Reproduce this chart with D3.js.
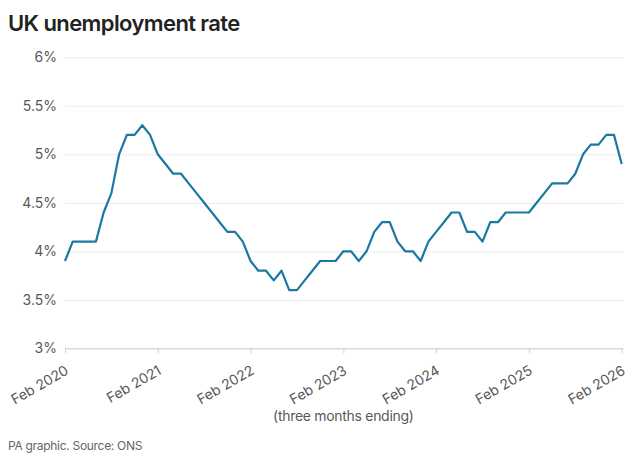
<!DOCTYPE html>
<html>
<head>
<meta charset="utf-8">
<script src="https://cdn.jsdelivr.net/npm/d3@7"></script>
<style>
  body { margin: 0; background: #fff; }
  svg text { font-family: Inter, "Noto Sans", sans-serif; }
</style>
</head>
<body>
<div id="root"></div>
<script>
// unemployment rate, %, three months ending Feb 2020 .. Feb 2026 (monthly)
var rates = [
  3.9, 4.1, 4.1, 4.1, 4.1, 4.4, 4.6, 5.0, 5.2, 5.2, 5.3, 5.2,
  5.0, 4.9, 4.8, 4.8, 4.7, 4.6, 4.5, 4.4, 4.3, 4.2, 4.2, 4.1,
  3.9, 3.8, 3.8, 3.7, 3.8, 3.6, 3.6, 3.7, 3.8, 3.9, 3.9, 3.9,
  4.0, 4.0, 3.9, 4.0, 4.2, 4.3, 4.3, 4.1, 4.0, 4.0, 3.9, 4.1,
  4.2, 4.3, 4.4, 4.4, 4.2, 4.2, 4.1, 4.3, 4.3, 4.4, 4.4, 4.4,
  4.4, 4.5, 4.6, 4.7, 4.7, 4.7, 4.8, 5.0, 5.1, 5.1, 5.2, 5.2,
  4.9
];
var yTicks = [3, 3.5, 4, 4.5, 5, 5.5, 6];
var xTicks = [0, 12, 24, 36, 48, 60, 72];
var xTickLabels = ["Feb 2020", "Feb 2021", "Feb 2022", "Feb 2023", "Feb 2024", "Feb 2025", "Feb 2026"];

var title = "UK unemployment rate",
    xTitle = "(three months ending)",
    source = "PA graphic. Source: ONS";

function drawChart() {
  var width = 640, height = 463;
  var margin = {top: 57.3, right: 18.3, bottom: 114.7, left: 65};

  var x = d3.scaleLinear()
      .domain([0, rates.length - 1])
      .range([margin.left, width - margin.right]);
  var y = d3.scaleLinear()
      .domain([3, 6])
      .range([height - margin.bottom, margin.top]);

  var svg = d3.select("#root").append("svg")
      .attr("width", width)
      .attr("height", height);

  // title
  svg.append("text")
      .attr("x", 8)
      .attr("y", 30.5)
      .attr("font-size", 22)
      .attr("font-weight", 600)
      .attr("letter-spacing", -0.6)
      .attr("fill", "#222")
      .text(title);

  // y axis with gridlines
  var yAxis = svg.append("g")
      .attr("transform", "translate(" + margin.left + ",0)")
      .call(d3.axisLeft(y)
        .tickValues(yTicks)
        .tickSize(-(width - margin.right + 1.5 - margin.left))
        .tickPadding(8)
        .tickFormat(function(d) { return d + "%"; }));
  yAxis.select(".domain").remove();
  yAxis.selectAll(".tick line").attr("stroke", "#ebebeb");
  yAxis.selectAll(".tick text")
      .attr("font-size", 14)
      .attr("fill", "#595959")
      .attr("x", -8);

  // x axis
  var xAxis = svg.append("g")
      .attr("transform", "translate(0," + y(3) + ")")
      .call(d3.axisBottom(x)
        .tickValues(xTicks)
        .tickSize(5)
        .tickSizeOuter(0)
        .tickFormat(function(d, i) { return xTickLabels[i]; }));
  xAxis.select(".domain").attr("stroke", "#d0d0d0")
      .attr("d", "M" + margin.left + ",0.5H" + (width - margin.right + 1.5));
  xAxis.selectAll(".tick line").attr("stroke", "#d0d0d0");
  xAxis.selectAll(".tick text")
      .attr("font-size", 14)
      .attr("fill", "#595959")
      .attr("text-anchor", "end")
      .attr("dy", null)
      .attr("y", 0)
      .attr("transform", "translate(4,25) rotate(-30)");

  // x axis title
  svg.append("text")
      .attr("x", (margin.left + width - margin.right) / 2)
      .attr("y", 421)
      .attr("text-anchor", "middle")
      .attr("font-size", 14)
      .attr("letter-spacing", -0.3)
      .attr("fill", "#595959")
      .text(xTitle);

  // source
  svg.append("text")
      .attr("x", 8)
      .attr("y", 450)
      .attr("font-size", 12)
      .attr("letter-spacing", -0.3)
      .attr("fill", "#666")
      .text(source);

  // the line
  var line = d3.line()
      .x(function(d, i) { return x(i); })
      .y(function(d) { return y(d); });

  svg.append("path")
      .datum(rates)
      .attr("fill", "none")
      .attr("stroke", "#1b78a2")
      .attr("stroke-width", 2.2)
      .attr("stroke-linejoin", "round")
      .attr("d", line);
}

drawChart();
</script>
</body>
</html>
